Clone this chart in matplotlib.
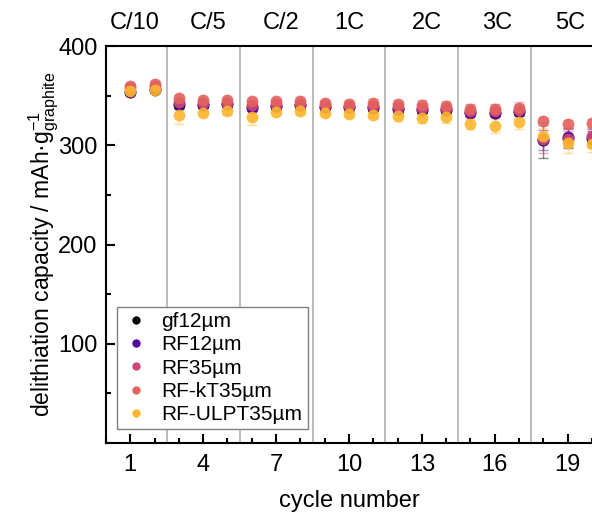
import matplotlib.pyplot as plt
from matplotlib.lines import Line2D
from matplotlib.ticker import MultipleLocator
import numpy as np

plt.rcParams['font.family'] = ['Liberation Sans', 'DejaVu Sans']
plt.rcParams['mathtext.fontset'] = 'custom'
plt.rcParams['mathtext.rm'] = 'Liberation Sans'
plt.rcParams['mathtext.it'] = 'Liberation Sans:italic'

cycles = np.arange(1, 21)

# mean delithiation capacity per cycle (mAh/g graphite)
gf12 = [354, 356, 341, 341, 342, 339, 340, 341, 339, 339, 338, 337, 336, 336, 334, 333, 334, 305, 307, 306]
rf12 = [354, 357, 342, 341, 342, 338, 340, 341, 339, 339, 339, 337, 337, 337, 333, 333, 335, 305, 308, 308]
rf35 = [358, 360, 344, 343, 343, 341, 342, 342, 341, 340, 340, 339, 338, 338, 335, 335, 336, 306, 306, 309]
rfkt = [360, 362, 348, 346, 346, 345, 345, 345, 343, 342, 343, 342, 341, 340, 337, 337, 338, 324, 321, 322]
ulpt = [355, 356, 330, 333, 335, 328, 334, 335, 333, 332, 331, 329, 327, 328, 321, 319, 323, 309, 302, 301]

gf12_err = [3, 3, 4, 3, 3, 3, 3, 3, 3, 3, 3, 3, 3, 3, 4, 4, 4, 18, 10, 8]
rf12_err = [3, 3, 4, 3, 3, 3, 3, 3, 3, 4, 4, 4, 4, 4, 5, 5, 5, 10, 8, 8]
rf35_err = [3, 3, 4, 3, 3, 3, 4, 4, 4, 4, 4, 5, 5, 5, 6, 6, 6, 14, 8, 8]
rfkt_err = [3, 3, 3, 3, 3, 3, 3, 4, 3, 4, 4, 4, 5, 5, 5, 5, 6, 4, 4, 4]
ulpt_err = [3, 3, 9, 3, 3, 8, 3, 4, 3, 4, 4, 5, 5, 6, 5, 7, 7, 8, 10, 8]

names = ['gf12µm', 'RF12µm', 'RF35µm', 'RF-kT35µm', 'RF-ULPT35µm']
colors = ['#000000', '#5302a3', '#cc4778', '#e3635f', '#fdb62d']
series = [gf12, rf12, rf35, rfkt, ulpt]
errors = [gf12_err, rf12_err, rf35_err, rfkt_err, ulpt_err]

rates = ['C/10', 'C/5', 'C/2', '1C', '2C', '3C', '5C']
rate_pos = [1.2, 4.2, 7.2, 10.0, 13.2, 16.1, 19.1]
rate_bounds = [2.5, 5.5, 8.5, 11.5, 14.5, 17.5]

fig = plt.figure(figsize=(5.92, 5.17), dpi=100)
ax = fig.add_axes([0.179, 0.143, 0.821, 0.768])

for xb in rate_bounds:
    ax.axvline(xb, color='#b0b0b0', lw=1.2, zorder=0)

for vals, err, c in zip(series, errors, colors):
    ax.errorbar(cycles, vals, yerr=err, fmt='none', ecolor=c, elinewidth=1.0,
                capsize=3.5, capthick=1.0, alpha=0.45, zorder=2)
    ax.plot(cycles, vals, 'o', color=c, ms=8.5, alpha=0.9, mec='none', zorder=3)

ax.set_xlim(0, 20)
ax.set_ylim(0, 400)
ax.set_xticks([1, 4, 7, 10, 13, 16, 19])
ax.xaxis.set_minor_locator(MultipleLocator(1))
ax.set_yticks([100, 200, 300, 400])
ax.yaxis.set_minor_locator(MultipleLocator(50))
ax.tick_params(which='both', direction='in', width=1.5, labelsize=17)
ax.tick_params(which='major', length=6.5)
ax.tick_params(which='minor', length=3.5)
ax.tick_params(axis='x', pad=8)
ax.tick_params(axis='y', pad=6)
ax.tick_params(top=False, right=False, which='both')
for s in ['left', 'bottom', 'top']:
    ax.spines[s].set_linewidth(1.5)
ax.spines['right'].set_visible(False)

for lbl, xp in zip(rates, rate_pos):
    ax.text(xp, 1.03, lbl, transform=ax.get_xaxis_transform(), ha='center',
            va='bottom', fontsize=17)

ax.set_xlabel('cycle number', fontsize=17, labelpad=10)
ax.set_ylabel('delithiation capacity / mAh·g$^{-1}_{\\mathrm{graphite}}$', fontsize=16.5, labelpad=-2)

handles = [Line2D([0], [0], marker='o', ls='none', color=c, ms=6, mec='none', label=n)
           for n, c in zip(names, colors)]
leg = ax.legend(handles=handles, loc='lower left', bbox_to_anchor=(0.022, 0.035),
                fontsize=15, fancybox=False, framealpha=1, edgecolor='#808080',
                handletextpad=0.5, labelspacing=0.2, borderpad=0.25, handlelength=1.4,
                borderaxespad=0)
leg.get_frame().set_linewidth(1.0)

fig.savefig('out.png', dpi=100)
